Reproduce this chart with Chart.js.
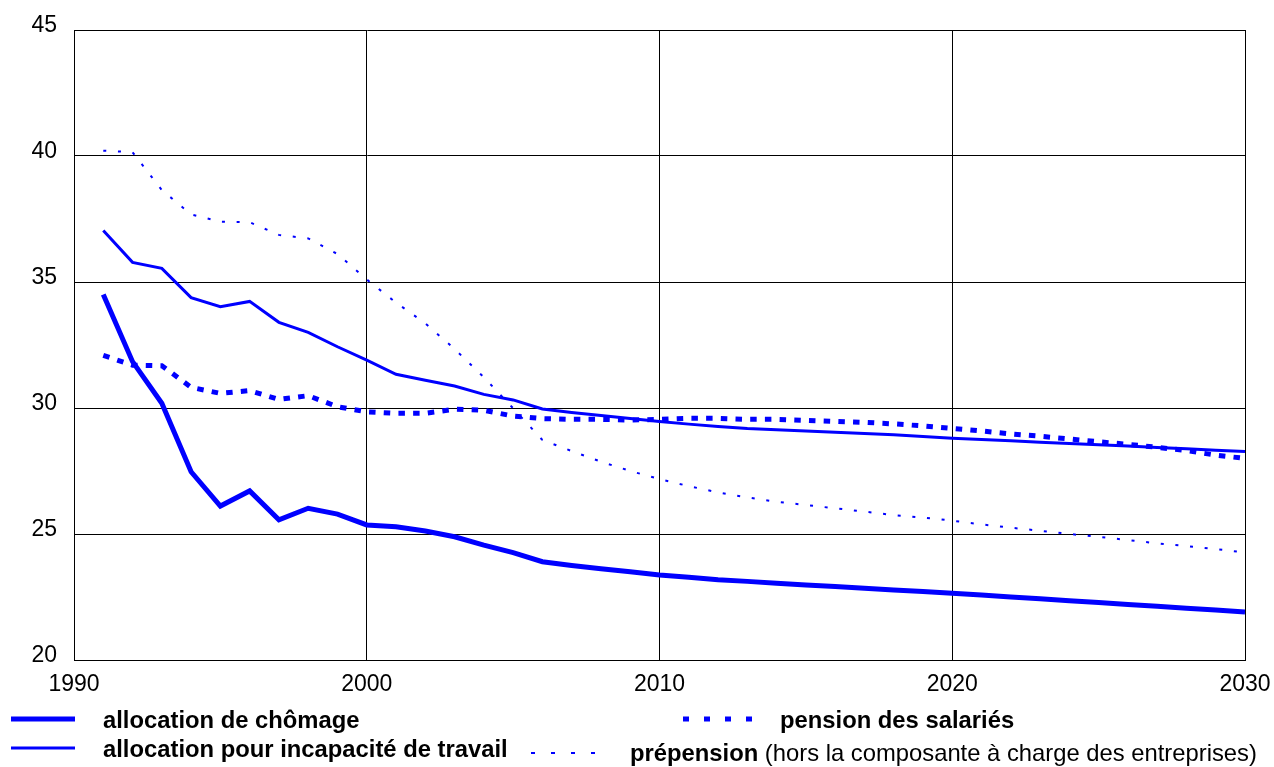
<!DOCTYPE html>
<html>
<head>
<meta charset="utf-8">
<title>Taux de remplacement</title>
<script src="https://cdn.jsdelivr.net/npm/chart.js@4"></script>
<style>
  html, body { margin: 0; padding: 0; background: #fff; }
  #wrap { width: 1274px; height: 767px; position: relative; }
</style>
</head>
<body>
<div id="wrap"><canvas id="myChart" width="1274" height="767"></canvas></div>
<script>
// Data

let years = [];
for (let y = 1991; y <= 2030; y++) {
  years.push(y);
}
let chomage = [34.5, 31.84, 30.19, 27.47, 26.11, 26.71, 25.56, 26.02, 25.79, 25.36,
  25.29, 25.12, 24.89, 24.56, 24.26, 23.9, 23.75, 23.62, 23.5, 23.37,
  23.28, 23.18, 23.12, 23.05, 22.98, 22.92, 22.85, 22.78, 22.72, 22.65,
  22.58, 22.5, 22.43, 22.35, 22.28, 22.2, 22.13, 22.05, 21.98, 21.9];
let incapacite = [37.04, 35.78, 35.54, 34.38, 34.02, 34.23, 33.4, 33.0, 32.43, 31.9,
  31.34, 31.1, 30.87, 30.54, 30.32, 29.96, 29.82, 29.7, 29.58, 29.46,
  29.36, 29.27, 29.19, 29.14, 29.09, 29.04, 28.99, 28.94, 28.87, 28.8,
  28.75, 28.7, 28.64, 28.59, 28.54, 28.49, 28.43, 28.38, 28.32, 28.27];
let pension = [32.09, 31.7, 31.68, 30.82, 30.58, 30.69, 30.34, 30.49, 30.05, 29.85,
  29.79, 29.79, 29.95, 29.91, 29.68, 29.58, 29.55, 29.55, 29.52, 29.55,
  29.59, 29.59, 29.55, 29.55, 29.51, 29.47, 29.43, 29.37, 29.29, 29.19,
  29.09, 28.97, 28.88, 28.77, 28.66, 28.56, 28.44, 28.31, 28.13, 28.0];
let prepension = [40.21, 40.15, 38.65, 37.68, 37.39, 37.37, 36.87, 36.73, 36.11, 35.1,
  34.18, 33.36, 32.34, 31.22, 29.99, 28.73, 28.29, 27.87, 27.5, 27.18,
  26.9, 26.65, 26.45, 26.28, 26.15, 26.02, 25.89, 25.75, 25.65, 25.53,
  25.38, 25.25, 25.13, 25.0, 24.89, 24.76, 24.63, 24.52, 24.4, 24.27];

let xTicks = [1990, 2000, 2010, 2020, 2030];
let yTicks = [20, 25, 30, 35, 40, 45];

let blue = '#0000ff';
let fontName = '"Liberation Sans", Arial, Helvetica, sans-serif';

function toPoints(values) {
  let pts = [];
  for (let i = 0; i < years.length; i++) {
    pts.push({ x: years[i], y: values[i] });
  }
  return pts;
}

// legend drawn under the plot, same layout as the original
function drawSample(ctx, x1, x2, y, width, dash) {
  ctx.save();
  ctx.strokeStyle = blue;
  ctx.lineWidth = width;
  ctx.lineCap = 'butt';
  ctx.setLineDash(dash);
  ctx.beginPath();
  ctx.moveTo(x1, y);
  ctx.lineTo(x2, y);
  ctx.stroke();
  ctx.restore();
}

let legendPlugin = {
  id: 'bottomLegend',
  afterDraw(chart) {
    let ctx = chart.ctx;
    ctx.save();
    ctx.fillStyle = '#000';
    ctx.textBaseline = 'middle';
    ctx.textAlign = 'left';

    drawSample(ctx, 11, 75, 719, 5, []);
    drawSample(ctx, 11, 75, 748, 3, []);
    drawSample(ctx, 683, 755, 719, 5, [6, 15]);
    drawSample(ctx, 531, 600, 753, 2, [4, 16]);

    ctx.font = 'bold 23.8px ' + fontName;
    ctx.fillText('allocation de chômage', 103, 721);
    ctx.fillText('allocation pour incapacité de travail', 103, 750);
    ctx.fillText('pension des salariés', 780, 721);
    ctx.fillText('prépension', 630, 754);
    let w = ctx.measureText('prépension').width;
    ctx.font = '23.8px ' + fontName;
    ctx.fillText(' (hors la composante à charge des entreprises)', 630 + w, 754);
    ctx.restore();
  }
};

let ctx = document.getElementById('myChart').getContext('2d');
// eslint-disable-next-line no-undef
let myChart = new Chart(ctx, {
  type: 'line',
  data: {
    datasets: [{
      label: 'allocation de chômage',
      data: toPoints(chomage),
      borderColor: blue,
      borderWidth: 5
    }, {
      label: 'allocation pour incapacité de travail',
      data: toPoints(incapacite),
      borderColor: blue,
      borderWidth: 3
    }, {
      label: 'pension des salariés',
      data: toPoints(pension),
      borderColor: blue,
      borderWidth: 5,
      borderDash: [6.5, 8.2]
    }, {
      label: 'prépension',
      data: toPoints(prepension),
      borderColor: blue,
      borderWidth: 2,
      borderDash: [3, 11.7]
    }]
  },
  options: {
    responsive: false,
    animation: false,
    layout: {
      padding: { top: 30, right: 29, bottom: 0, left: 0 }
    },
    elements: {
      point: { radius: 0 },
      line: { tension: 0, borderCapStyle: 'butt', borderJoinStyle: 'miter' }
    },
    plugins: {
      legend: { display: false },
      tooltip: { enabled: false }
    },
    scales: {
      x: {
        type: 'linear',
        min: 1990,
        max: 2030,
        afterBuildTicks: function (scale) {
          scale.ticks = xTicks.map(function (v) { return { value: v }; });
        },
        afterFit: function (scale) {
          scale.height = 107;
          scale.paddingLeft = 0;
          scale.paddingRight = 0;
        },
        grid: { color: '#000', lineWidth: 1, drawTicks: false },
        border: { color: '#000', width: 1 },
        ticks: {
          color: '#000',
          padding: 11,
          maxRotation: 0,
          font: { family: fontName, size: 23 },
          callback: function (v) { return String(v); }
        }
      },
      y: {
        min: 20,
        max: 45,
        afterBuildTicks: function (scale) {
          scale.ticks = yTicks.map(function (v) { return { value: v }; });
        },
        afterFit: function (scale) {
          scale.width = 74;
          scale.paddingTop = 0;
          scale.paddingBottom = 0;
        },
        grid: { color: '#000', lineWidth: 1, drawTicks: false },
        border: { color: '#000', width: 1 },
        ticks: {
          color: '#000',
          padding: 17,
          labelOffset: -4,
          font: { family: fontName, size: 23 }
        }
      }
    }
  },
  plugins: [legendPlugin]
});
</script>
</body>
</html>
